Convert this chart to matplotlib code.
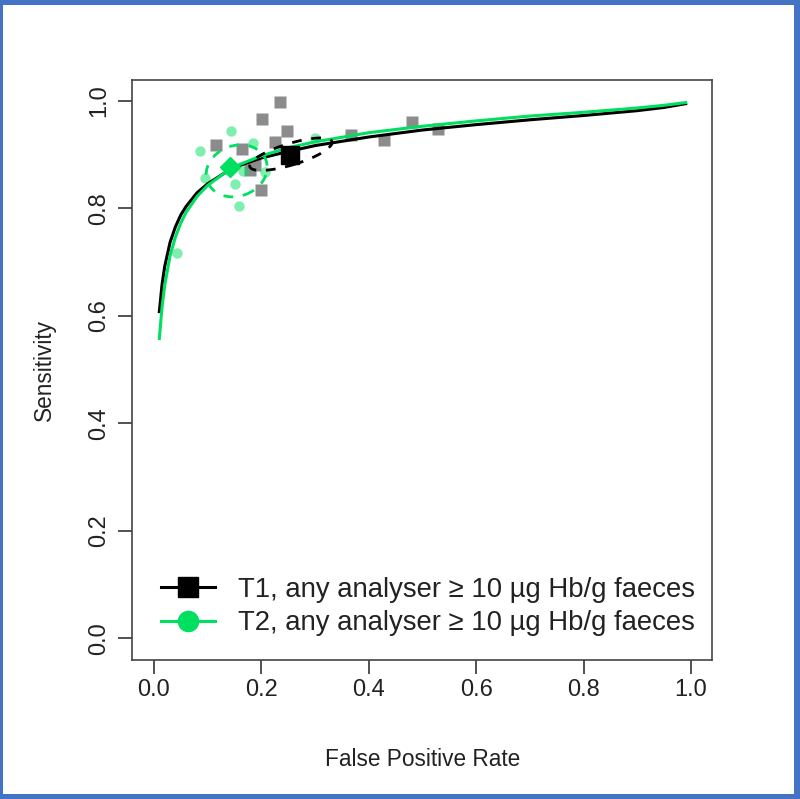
import matplotlib
matplotlib.use("Agg")
import matplotlib.pyplot as plt
from matplotlib.patches import Ellipse, Rectangle
from matplotlib.lines import Line2D

plt.rcParams['font.family'] = ['Liberation Sans', 'DejaVu Sans']

# ---- data ----
# Study estimates, T1 (grey squares): false positive rate, sensitivity
t1_fpr = [0.235, 0.202, 0.247, 0.115, 0.164, 0.225, 0.366, 0.480, 0.429, 0.529, 0.200, 0.179, 0.188]
t1_sens = [0.999, 0.966, 0.945, 0.918, 0.910, 0.924, 0.937, 0.961, 0.927, 0.948, 0.834, 0.872, 0.881]

# Study estimates, T2 (green circles)
t2_fpr = [0.143, 0.086, 0.184, 0.299, 0.095, 0.150, 0.158, 0.042, 0.166, 0.207]
t2_sens = [0.945, 0.907, 0.922, 0.932, 0.857, 0.845, 0.804, 0.717, 0.870, 0.868]

# Summary points
t1_summary = (0.253, 0.899)
t2_summary = (0.1415, 0.877)

# SROC curves
curve_fpr = [0.01, 0.015, 0.02, 0.03, 0.04, 0.05, 0.06, 0.08, 0.10, 0.13, 0.16, 0.20,
             0.25, 0.30, 0.40, 0.50, 0.60, 0.70, 0.80, 0.90, 0.95, 0.99]
t1_curve_sens = [0.608, 0.658, 0.692, 0.737, 0.766, 0.788, 0.804, 0.829, 0.846, 0.865, 0.880, 0.894,
                 0.906, 0.917, 0.933, 0.946, 0.956, 0.965, 0.973, 0.982, 0.988, 0.995]
t2_curve_sens = [0.558, 0.616, 0.657, 0.712, 0.747, 0.773, 0.793, 0.822, 0.843, 0.865, 0.882, 0.898,
                 0.913, 0.924, 0.941, 0.953, 0.963, 0.972, 0.979, 0.987, 0.992, 0.997]

# Confidence regions: centre x, centre y, width, height, angle (deg)
t1_region = (0.255, 0.901, 0.160, 0.040, 17)
t2_region = (0.154, 0.870, 0.116, 0.094, 20)

labels = ["T1, any analyser \u2265 10 \u00b5g Hb/g faeces",
          "T2, any analyser \u2265 10 \u00b5g Hb/g faeces"]
ticks = [0.0, 0.2, 0.4, 0.6, 0.8, 1.0]
tick_labels = ["0.0", "0.2", "0.4", "0.6", "0.8", "1.0"]

BLACK = "#000000"
GREEN = "#00E060"
GREY = "#8C8C8C"
TXT = "#222222"

fig = plt.figure(figsize=(8.0, 7.99), dpi=100)
ax = fig.add_axes([0.1656, 0.1742, 0.725, 0.7263])

ax.plot(t1_fpr, t1_sens, linestyle="none", marker="s", ms=8, color=GREY, mec="none", zorder=2)
ax.plot(t2_fpr, t2_sens, linestyle="none", marker="o", ms=7.5, color=GREEN, alpha=0.5, mec="none", zorder=2)

ax.plot(curve_fpr, t1_curve_sens, color=BLACK, lw=2.2, zorder=3)
ax.plot(curve_fpr, t2_curve_sens, color=GREEN, lw=2.2, zorder=3.1)

for reg, col in ((t1_region, BLACK), (t2_region, GREEN)):
    e = Ellipse((reg[0], reg[1]), reg[2], reg[3], angle=reg[4], fill=False,
                edgecolor=col, lw=2.0, linestyle=(0, (3.5, 3.5)), zorder=4)
    ax.add_patch(e)

ax.plot([t1_summary[0]], [t1_summary[1]], marker="s", ms=13, color=BLACK, linestyle="none", zorder=5)
ax.plot([t2_summary[0]], [t2_summary[1]], marker="D", ms=10, color=GREEN, linestyle="none", zorder=5)

ax.set_xlim(-0.04, 1.04)
ax.set_ylim(-0.04, 1.04)
ax.set_xticks(ticks)
ax.set_xticklabels(tick_labels)
ax.set_yticks(ticks)
ax.set_yticklabels(tick_labels, rotation=90, va="center")
ax.tick_params(axis="both", length=10, width=1.2, labelsize=17, color="#333333", labelcolor=TXT)
ax.tick_params(axis="x", pad=4)
ax.tick_params(axis="y", pad=6)
for s in ax.spines.values():
    s.set_color("#444444")
    s.set_linewidth(1.2)

ax.set_xlabel("False Positive Rate", fontsize=16.3, color=TXT, labelpad=34)
ax.set_ylabel("Sensitivity", fontsize=16.3, color=TXT, labelpad=23)

handles = [Line2D([], [], color=BLACK, lw=2.2, marker="s", ms=14.5),
           Line2D([], [], color=GREEN, lw=2.2, marker="o", ms=14.5)]
leg = ax.legend(handles, labels, loc="lower left", bbox_to_anchor=(0.009, 0),
                borderaxespad=0, fontsize=19.8, handlelength=1.95,
                handletextpad=0.85, labelspacing=0.28, borderpad=0.85, frameon=False)
for t in leg.get_texts():
    t.set_color(TXT)

# blue frame around the picture
BLUE = "#4472C4"
W, H = 800.0, 799.0
for (x0, y0, w, h) in ((0, 0, 3, H), (W - 6, 0, 6, H), (0, H - 5, W, 5), (0, 0, W, 5)):
    fig.patches.append(Rectangle((x0 / W, y0 / H), w / W, h / H, transform=fig.transFigure,
                                 facecolor=BLUE, edgecolor="none", zorder=10))

fig.savefig("out.png", dpi=100)
